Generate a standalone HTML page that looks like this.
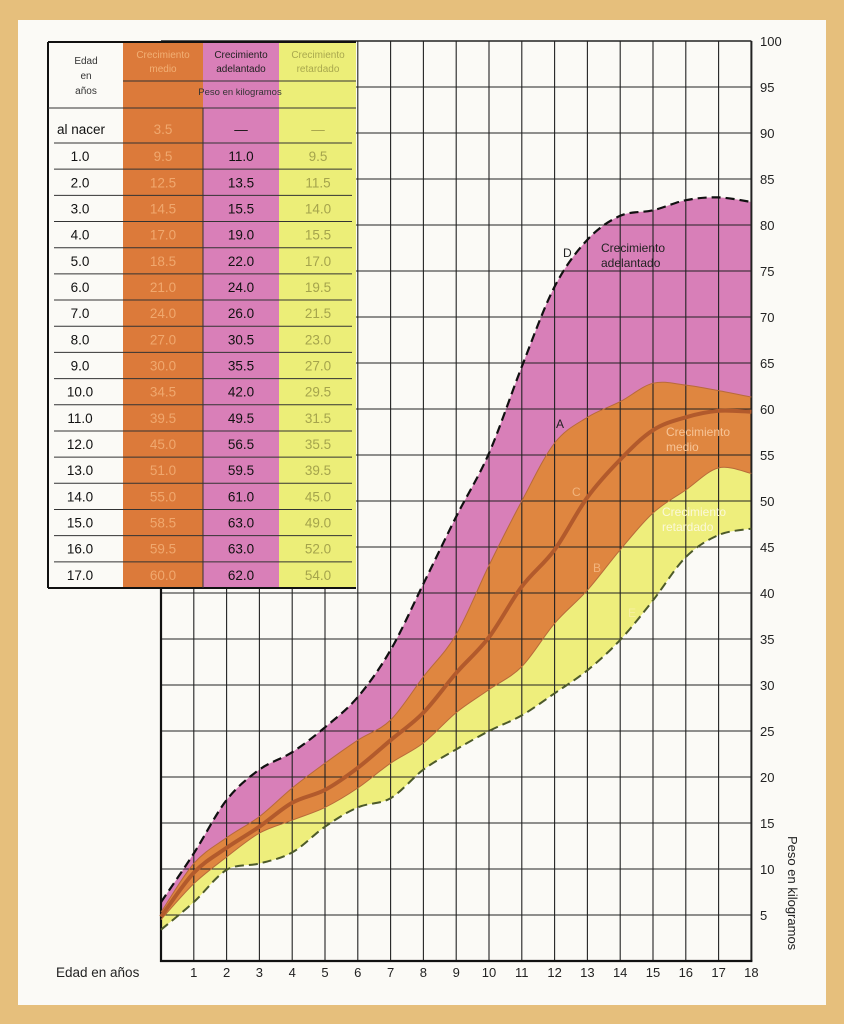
<!DOCTYPE html>
<html><head><meta charset="utf-8"><style>
html,body{margin:0;padding:0;background:#e6bf7c;}
svg{display:block;font-family:"Liberation Sans",sans-serif;}
</style></head><body>
<svg id="chart" width="844" height="1024" viewBox="0 0 844 1024" xmlns="http://www.w3.org/2000/svg">
<rect x="0" y="0" width="844" height="1024" fill="#e6bf7c"/>
<rect x="18" y="20" width="808" height="985" fill="#fbfaf6"/>
<g id="areas"></g><g id="grid"></g><g id="lines"></g><g id="table"></g><g id="labels"></g>
</svg>
<script>
const years = [0,1,2,3,4,5,6,7,8,9,10,11,12,13,14,15,16,17,18];
const seriesD = [6.4,11.7,17.5,20.8,22.7,25.4,28.7,33.8,41,48.3,55.2,64.6,73.3,78.4,81,81.6,82.7,83,82.5];
const seriesA = [5.3,10.6,13.4,15.7,18.8,21.5,24,26.2,30.9,35.5,43,50,56.3,59.1,60.8,62.8,62.6,62,61.3];
const seriesC = [4.8,9.6,12.3,14.6,17.2,18.6,21,24,27,31.3,35.2,40.7,44.7,50.4,54.5,57.7,59.1,59.8,59.7];
const seriesB = [4.5,8.4,11.3,13.9,15.3,16.7,18.8,21.5,23.7,27,29.5,32,36.7,40.3,44.7,48.7,51.2,53.6,53];
const seriesE = [3.4,6.4,9.9,10.6,11.8,14.6,16.7,17.7,20.8,23,25,26.7,29.1,31.6,34.9,39.2,43.9,46.3,47];
const yTicks = [5,10,15,20,25,30,35,40,45,50,55,60,65,70,75,80,85,90,95,100];
const xTicks = [1,2,3,4,5,6,7,8,9,10,11,12,13,14,15,16,17,18];
const tableAges = ["al nacer","1.0","2.0","3.0","4.0","5.0","6.0","7.0","8.0","9.0","10.0","11.0","12.0","13.0","14.0","15.0","16.0","17.0"];
const tableMedio = ["3.5","9.5","12.5","14.5","17.0","18.5","21.0","24.0","27.0","30.0","34.5","39.5","45.0","51.0","55.0","58.5","59.5","60.0"];
const tableAdel = ["—","11.0","13.5","15.5","19.0","22.0","24.0","26.0","30.5","35.5","42.0","49.5","56.5","59.5","61.0","63.0","63.0","62.0"];
const tableRet = ["—","9.5","11.5","14.0","15.5","17.0","19.5","21.5","23.0","27.0","29.5","31.5","35.5","39.5","45.0","49.0","52.0","54.0"];

const NS="http://www.w3.org/2000/svg";
const X0=161, XS=32.8, Y0=961, YS=9.2;
const xs=v=>X0+v*XS, ys=v=>Y0-v*YS;
function mk(tag,attrs,parent){const e=document.createElementNS(NS,tag);for(const k in attrs)e.setAttribute(k,attrs[k]);parent.appendChild(e);return e;}
function pts(s){return years.map((yr,i)=>[xs(yr),ys(s[i])]);}
function spline(p){let d="";for(let i=0;i<p.length-1;i++){const p0=p[Math.max(i-1,0)],p1=p[i],p2=p[i+1],p3=p[Math.min(i+2,p.length-1)];
const c1=[p1[0]+(p2[0]-p0[0])/6,p1[1]+(p2[1]-p0[1])/6],c2=[p2[0]-(p3[0]-p1[0])/6,p2[1]-(p3[1]-p1[1])/6];
d+=` C${c1[0].toFixed(1)},${c1[1].toFixed(1)} ${c2[0].toFixed(1)},${c2[1].toFixed(1)} ${p2[0].toFixed(1)},${p2[1].toFixed(1)}`;}return d;}
function linePath(s){const p=pts(s);return `M${p[0][0]},${p[0][1]}`+spline(p);}
function band(top,bot){const p=pts(top),q=pts(bot).reverse();return `M${p[0][0]},${p[0][1]}`+spline(p)+` L${q[0][0]},${q[0][1]}`+spline(q)+"Z";}

const areas=document.getElementById('areas'),grid=document.getElementById('grid'),lines=document.getElementById('lines'),tbl=document.getElementById('table'),lab=document.getElementById('labels');
let e;
e=mk('path',{d:band(seriesD,seriesA),fill:'#d87fb8'},areas);


e=mk('path',{d:band(seriesA,seriesB),fill:'#df8640'},areas);


e=mk('path',{d:band(seriesB,seriesE),fill:'#eeee7c'},areas);



for(const t of xTicks){e=mk('line',{x1:xs(t),x2:xs(t),y1:ys(100),y2:Y0,stroke:'#222','stroke-width':t===18?2:1.1},grid);


e=mk('text',{x:xs(t),y:977,'font-size':13,'text-anchor':'middle',fill:'#222'},grid);e.textContent=t;

}
for(const t of yTicks){e=mk('line',{x1:X0,x2:xs(18),y1:ys(t),y2:ys(t),stroke:'#222','stroke-width':t===100?1.6:1.1},grid);


e=mk('text',{x:760,y:ys(t)+5,'font-size':13,fill:'#222'},grid);e.textContent=t;

}
e=mk('line',{x1:X0,x2:X0,y1:ys(100),y2:Y0+1,stroke:'#111','stroke-width':2.2},grid);


e=mk('line',{x1:X0-1,x2:xs(18)+1,y1:Y0,y2:Y0,stroke:'#111','stroke-width':2.2},grid);



e=mk('path',{d:linePath(seriesA),fill:'none',stroke:'#b86a3a','stroke-width':1},lines);


e=mk('path',{d:linePath(seriesB),fill:'none',stroke:'#b86a3a','stroke-width':1},lines);


e=mk('path',{d:linePath(seriesC),fill:'none',stroke:'#b25a2c','stroke-width':4},lines);


e=mk('path',{d:linePath(seriesD),fill:'none',stroke:'#111','stroke-width':2.2,'stroke-dasharray':'9 5'},lines);


e=mk('path',{d:linePath(seriesE),fill:'none',stroke:'#4d5a2a','stroke-width':2,'stroke-dasharray':'9 5'},lines);



const TX=48,TY=42,TB=588;
e=mk('rect',{x:TX,y:TY,width:308,height:TB-TY,fill:'#fbfaf6'},tbl);


e=mk('rect',{x:123,y:TY,width:80,height:TB-TY,fill:'#dc7a3a'},tbl);


e=mk('rect',{x:203,y:TY,width:76,height:TB-TY,fill:'#d97fb8'},tbl);


e=mk('rect',{x:279,y:TY,width:77,height:TB-TY,fill:'#ecee78'},tbl);


mk('line',{x1:TX,x2:356,y1:TY,y2:TY,stroke:'#111','stroke-width':2},tbl);
mk('line',{x1:TX,x2:TX,y1:TY,y2:TB,stroke:'#111','stroke-width':2},tbl);
mk('line',{x1:TX,x2:356,y1:TB,y2:TB,stroke:'#111','stroke-width':2},tbl);
mk('line',{x1:203,x2:203,y1:108,y2:TB,stroke:'#333','stroke-width':1},tbl);
mk('line',{x1:123,x2:356,y1:81,y2:81,stroke:'#333','stroke-width':1},tbl);
mk('line',{x1:TX,x2:356,y1:108,y2:108,stroke:'#333','stroke-width':1},tbl);
const RH=(TB-143)/17;
for(let k=0;k<17;k++){mk('line',{x1:54,x2:352,y1:143+k*RH,y2:143+k*RH,stroke:'#333','stroke-width':1},tbl);}
function tx(x,y,s,size,fill,anchor,name){const t=mk('text',{x:x,y:y,'font-size':size,fill:fill,'text-anchor':anchor||'middle'},tbl);t.textContent=s;

return t;}
tx(86,64,'Edad',10,'#333','middle','header-edad');tx(86,79,'en',10,'#333','middle','header-edad');tx(86,94,'años',10,'#333','middle','header-edad');
tx(163,58,'Crecimiento',10,'#f2b075','middle','header-medio');tx(163,72,'medio',10,'#f2b075','middle','header-medio');
tx(241,58,'Crecimiento',10,'#222','middle','header-adelantado');tx(241,72,'adelantado',10,'#222','middle','header-adelantado');
tx(318,58,'Crecimiento',10,'#a9a84e','middle','header-retardado');tx(318,72,'retardado',10,'#a9a84e','middle','header-retardado');
tx(240,95,'Peso en kilogramos',9.5,'#333','middle','header-peso');
for(let i=0;i<18;i++){const cy=(i===0?134:143+(i-1)*RH+RH/2+5);
if(i===0){tx(57,cy,tableAges[i],13.5,'#111','start','cell-age');}else{tx(80,cy,tableAges[i],13.5,'#111','middle','cell-age');}
tx(163,cy,tableMedio[i],13.5,'#f0a86e','middle','cell-medio');
tx(241,cy,tableAdel[i],13.5,'#111','middle','cell-adelantado');
tx(318,cy,tableRet[i],13.5,'#a5a44c','middle','cell-retardado');}

function lb(x,y,s,size,fill,name,extra){const t=mk('text',Object.assign({x:x,y:y,'font-size':size,fill:fill},extra||{}),lab);t.textContent=s;

return t;}
lb(563,257,'D',12,'#222','label-d');
lb(601,252,'Crecimiento',12,'#222','label-adelantado');lb(601,267,'adelantado',12,'#222','label-adelantado');
lb(556,428,'A',12,'#222','label-a');
lb(572,496,'C',12,'#f2b47c','label-c');
lb(593,572,'B',12,'#f2b47c','label-b');
lb(628,617,'E',12,'#f7f0a0','label-e');
lb(666,436,'Crecimiento',12,'#f7c496','label-medio');lb(666,451,'medio',12,'#f7c496','label-medio');
lb(662,516,'Crecimiento',12,'#fbf8d8','label-retardado');lb(662,531,'retardado',12,'#fbf8d8','label-retardado');
lb(56,977,'Edad en años',13.5,'#222','x-axis-title');
lb(0,0,'Peso en kilogramos',13,'#222','y-axis-title',{transform:'translate(788,836) rotate(90)'});
</script>
</body></html>
